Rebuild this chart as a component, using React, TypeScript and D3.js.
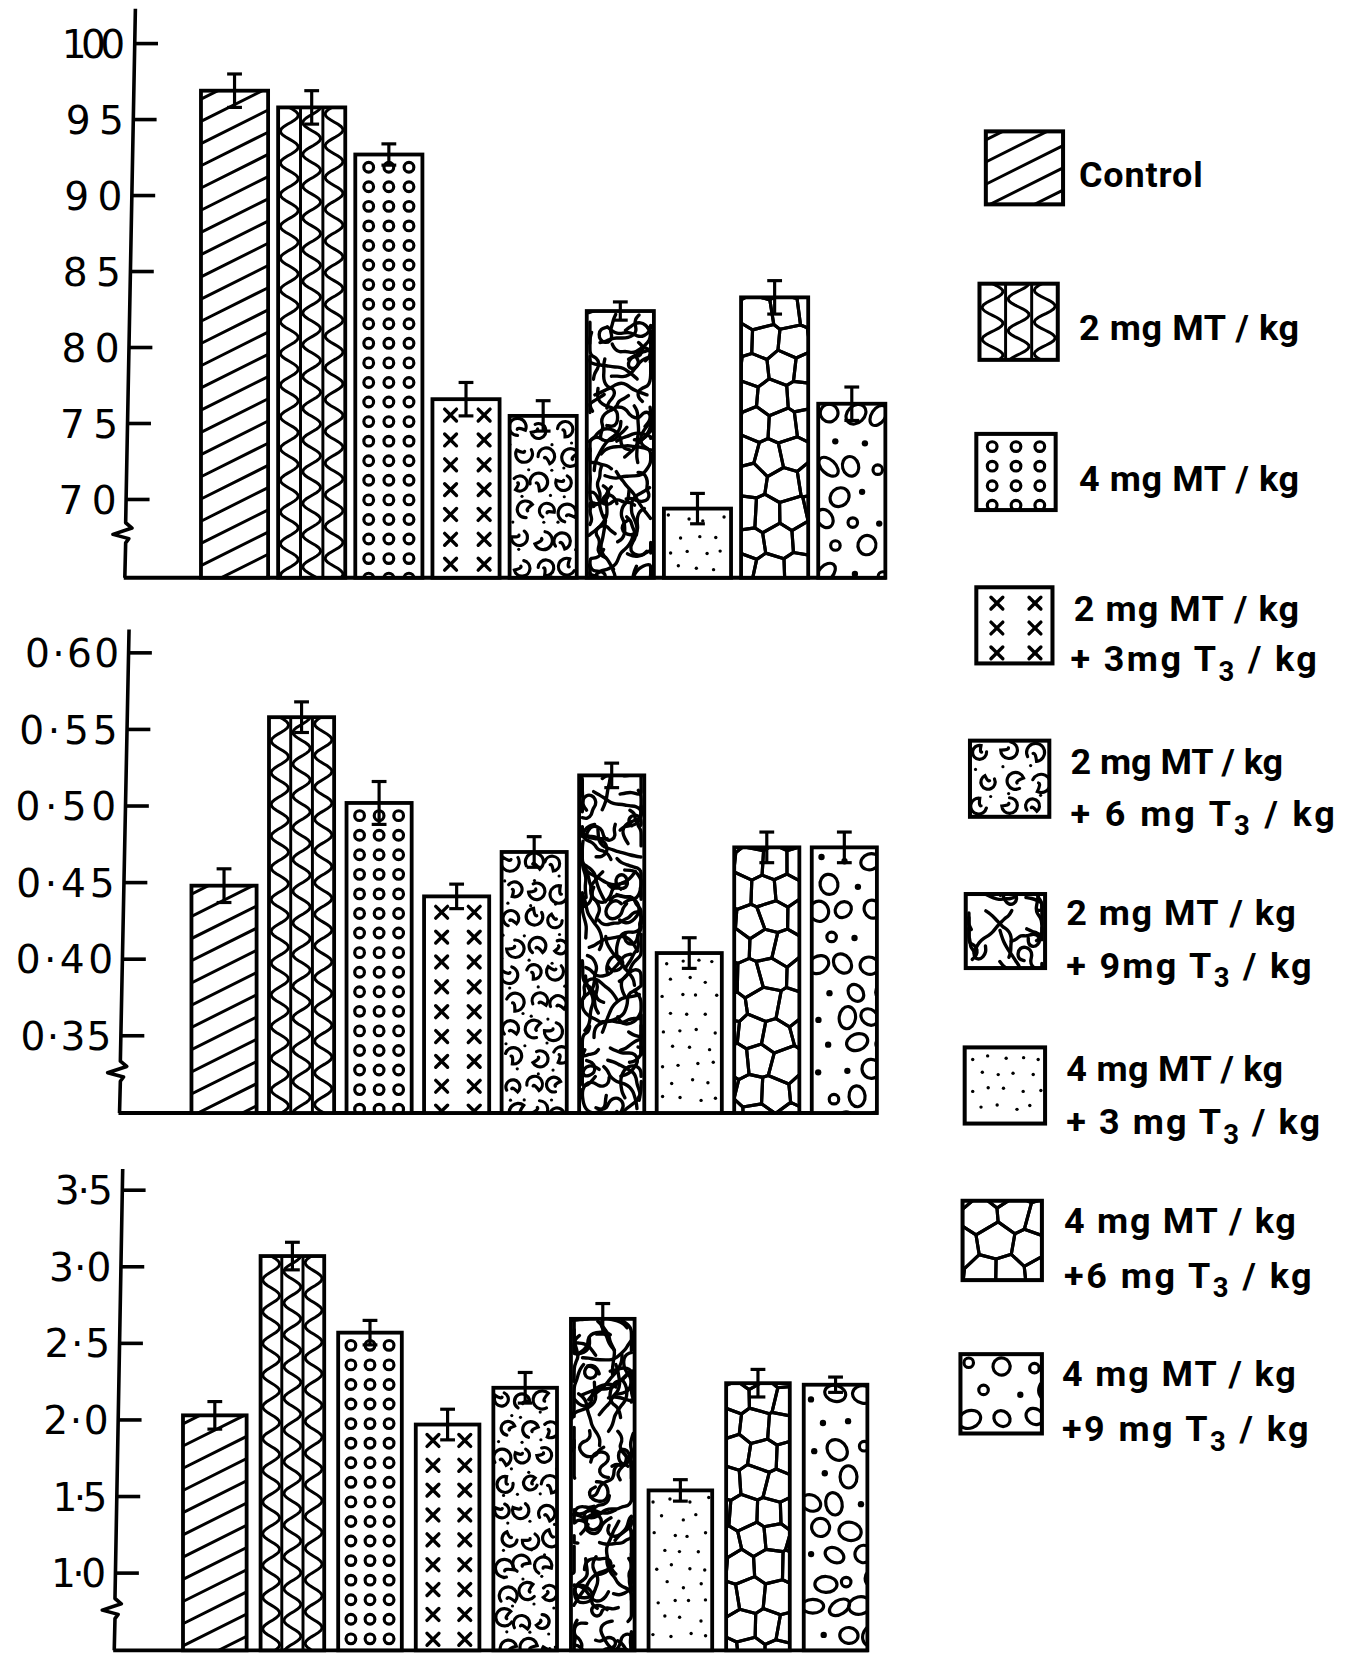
import { useMemo } from 'react';
import * as d3 from 'd3';

// ---- data ----
const GROUPS = ['Control', '2MT', '4MT', '2MT+3T3', '2MT+6T3', '2MT+9T3', '4MT+3T3', '4MT+6T3', '4MT+9T3'];
const TEXTURES = ['hatch', 'wave', 'rings', 'cross', 'beans', 'worms', 'stipple', 'stones', 'bubbles'];

const topValues = [96.9, 95.8, 92.7, 76.6, 75.5, 82.4, 69.4, 83.3, 76.3];
const topErrors = [1.1, 1.1, 0.7, 1.1, 1.0, 0.6, 1.0, 1.1, 1.1];
const topTicks = [70, 75, 80, 85, 90, 95, 100];
const topTickLabels = ['70', '75', '80', '85', '90', '95', '100'];

const midValues = [0.448, 0.558, 0.502, 0.441, 0.470, 0.520, 0.404, 0.473, 0.473];
const midErrors = [0.011, 0.010, 0.014, 0.008, 0.010, 0.008, 0.010, 0.010, 0.010];
const midTicks = [0.35, 0.40, 0.45, 0.50, 0.55, 0.60];
const midTickLabels = ['0·35', '0·40', '0·45', '0·50', '0·55', '0·60'];

const lowValues = [2.03, 3.07, 2.57, 1.97, 2.21, 2.66, 1.54, 2.24, 2.23];
const lowErrors = [0.09, 0.09, 0.08, 0.10, 0.10, 0.10, 0.07, 0.09, 0.05];
const lowTicks = [1.0, 1.5, 2.0, 2.5, 3.0, 3.5];
const lowTickLabels = ['1·0', '1·5', '2·0', '2·5', '3·0', '3·5'];

const legendLabels = [
  ['Control'],
  ['2 mg MT / kg'],
  ['4 mg MT / kg'],
  ['2 mg MT / kg', '+ 3mg T3 / kg'],
  ['2 mg MT / kg', '+ 6 mg T3 / kg'],
  ['2 mg MT / kg', '+ 9mg T3 / kg'],
  ['4 mg MT / kg', '+ 3 mg T3 / kg'],
  ['4 mg MT / kg', '+6 mg T3 / kg'],
  ['4 mg MT / kg', '+9 mg T3 / kg'],
];

// ---- layout (in the 1281x1568 drawing space) ----
const W = 1281;
const H = 1568;
const TICK_FONT = '"DejaVu Sans", Roboto, sans-serif';
const LEGEND_FONT = 'Roboto, "DejaVu Sans", sans-serif';

const panels = [
  {
    values: topValues, errors: topErrors, ticks: topTicks, labels: topTickLabels,
    tickRange: [472, 41], xRange: [190, 837], pad: 0.13,
    axisTop: [128, 8], axisBottom: [118, 546], breakY: 503,
    labelWidths: [55, 55, 55, 55, 55, 55, 60],
  },
  {
    values: midValues, errors: midErrors, ticks: midTicks, labels: midTickLabels,
    tickRange: [979, 617], xRange: [181, 829], pad: 0.16,
    axisTop: [122, 595], axisBottom: [113, 1052], breakY: 1012,
    labelWidths: [86, 92, 93, 95, 93, 89],
  },
  {
    values: lowValues, errors: lowErrors, ticks: lowTicks, labels: lowTickLabels,
    tickRange: [1487, 1125], xRange: [173, 820], pad: 0.18,
    axisTop: [116, 1105], axisBottom: [108, 1560], breakY: 1520,
    labelWidths: [52, 52, 62, 62, 59, 55],
  },
];

const legendLayout = [
  { box: [932, 124, 73, 69], lines: [[1020, 164, 117]] },
  { box: [926, 268, 74, 72], lines: [[1020, 309, 208]] },
  { box: [923, 410, 75, 72], lines: [[1020, 452, 208]] },
  { box: [923, 555, 72, 72], lines: [[1015, 575, 213], [1012, 622, 233]] },
  { box: [917, 700, 75, 72], lines: [[1012, 719, 201], [1012, 768, 250]] },
  { box: [913, 845, 75, 70], lines: [[1008, 862, 217], [1008, 912, 232]] },
  { box: [912, 990, 76, 72], lines: [[1008, 1010, 205], [1008, 1060, 240]] },
  { box: [910, 1135, 75, 75], lines: [[1006, 1153, 219], [1006, 1205, 234]] },
  { box: [908, 1280, 77, 75], lines: [[1004, 1298, 221], [1004, 1350, 233]] },
];

function makeRng(seed: number) {
  let a = seed >>> 0;
  return () => {
    a = (a + 0x6d2b79f5) | 0;
    let t = Math.imul(a ^ (a >>> 15), 1 | a);
    t = (t + Math.imul(t ^ (t >>> 7), 61 | t)) ^ t;
    return ((t ^ (t >>> 14)) >>> 0) / 4294967296;
  };
}

// hand-drawn style fills, built relative to the bar box
function texture(kind: string, x: number, y: number, w: number, h: number, seed: number) {
  const rnd = makeRng(seed * 7919 + 13);
  const out: any[] = [];
  const S = { stroke: '#000', strokeWidth: 2.8, fill: 'none', strokeLinecap: 'round' as const };
  const line = d3.line();
  const smooth = d3.line().curve(d3.curveBasis);
  let k = 0;

  if (kind === 'hatch') {
    const slope = 0.5, gap = 21;
    for (let c = y + 8; c < y + h + w * slope; c += gap)
      out.push(<line key={k++} x1={x} y1={c} x2={x + w} y2={c - w * slope} {...S} />);
  } else if (kind === 'wave') {
    const cw = w / 3;
    out.push(<line key={k++} x1={x + cw} y1={y} x2={x + cw} y2={y + h} {...S} />);
    out.push(<line key={k++} x1={x + 2 * cw} y1={y} x2={x + 2 * cw} y2={y + h} {...S} />);
    for (let i = 0; i < 3; i++) {
      const cx = x + (i + 0.5) * cw, amp = cw * 0.4, period = 30, ph = i * 1.7;
      const pts = d3.range(y - 2, y + h + 3, 2).map(v =>
        [cx + amp * Math.sin(((v - y) / period) * 2 * Math.PI + ph), v] as [number, number]);
      out.push(<path key={k++} d={line(pts) || ''} {...S} />);
    }
  } else if (kind === 'rings') {
    for (let v = y + 12; v < y + h + 4; v += 18.5)
      for (const f of [0.2, 0.5, 0.8])
        out.push(<circle key={k++} cx={x + f * w} cy={v} r={4.6} {...S} strokeWidth={3} fill="#fff" />);
  } else if (kind === 'cross') {
    for (let v = y + 15; v < y + h + 4; v += 23.5)
      for (const f of [0.27, 0.77]) {
        const cx = x + f * w, s = 5.6;
        out.push(<line key={k++} x1={cx - s} y1={v - s} x2={cx + s} y2={v + s} {...S} strokeWidth={3.2} />);
        out.push(<line key={k++} x1={cx - s} y1={v + s} x2={cx + s} y2={v - s} {...S} strokeWidth={3.2} />);
      }
  } else if (kind === 'beans') {
    const cw = w / 3, rh = 26;
    let row = 0;
    for (let v = y + 12; v < y + h + 12; v += rh, row++)
      for (let c = 0; c < 3; c++) {
        const cx = x + (c + 0.5 + (row % 2 ? 0.15 : -0.1)) * cw + (rnd() - 0.5) * 5, cy = v + (rnd() - 0.5) * 6;
        const R = 6.5 + rnd() * 2.2;
        const a0 = rnd() * Math.PI * 2, a1 = a0 + Math.PI * (1.3 + rnd() * 0.35);
        const p0 = [cx + R * Math.cos(a0), cy + R * Math.sin(a0)];
        const p1 = [cx + R * Math.cos(a1), cy + R * Math.sin(a1)];
        const pin = [cx + R * 0.3 * Math.cos(a1 + 1.3), cy + R * 0.3 * Math.sin(a1 + 1.3)];
        out.push(<path key={k++} d={`M${p0[0]},${p0[1]}A${R},${R} 0 1 1 ${p1[0]},${p1[1]}Q${cx},${cy} ${pin[0]},${pin[1]}`} {...S} strokeWidth={3} />);
        out.push(<circle key={k++} cx={x + (c + rnd()) * cw} cy={v + rh * 0.5 + (rnd() - 0.5) * 6} r={1.5} fill="#000" />);
      }
  } else if (kind === 'worms') {
    // meandering maze-like lines, smoothed
    const rh = 15;
    let row = 0;
    for (let v = y + 2; v < y + h + 10; v += rh, row++)
      for (let c = 0; c < 3; c++) {
        let px = x + ((c + 0.5) / 3) * w + (row % 2 ? 6 : -6) + (rnd() - 0.5) * 6;
        let py = v + (rnd() - 0.5) * 6;
        let ang = rnd() * Math.PI * 2;
        let bend = (rnd() - 0.5) * 1.6;
        const pts: [number, number][] = [[px, py]];
        for (let s = 0; s < 10; s++) {
          if (rnd() < 0.3) bend = -bend;
          ang += bend + (rnd() - 0.5) * 0.8;
          px += Math.cos(ang) * 5.5;
          py += Math.sin(ang) * 5.5;
          px = Math.max(x + 3, Math.min(x + w - 3, px));
          pts.push([px, py]);
        }
        out.push(<path key={k++} d={smooth(pts) || ''} {...S} strokeWidth={3.2} strokeLinejoin="round" />);
      }
  } else if (kind === 'stipple') {
    let row = 0;
    for (let v = y + 9; v < y + h; v += 16, row++)
      for (let u = x + 7 + (row % 2) * 8; u < x + w - 3; u += 16)
        out.push(<circle key={k++} cx={u + (rnd() - 0.5) * 6} cy={v + (rnd() - 0.5) * 6} r={1.6} fill="#000" />);
  } else if (kind === 'stones') {
    const cw = w / 2.4, rh = 27;
    const pts: [number, number][] = [];
    for (let j = -1; j * rh < h + rh; j++)
      for (let c = -1; c <= 3; c++)
        pts.push([
          x + (c + 0.5 + (j % 2 ? 0.5 : 0)) * cw + (rnd() - 0.5) * cw * 0.45,
          y + (j + 0.5) * rh + (rnd() - 0.5) * 9,
        ]);
    const vor = d3.Delaunay.from(pts).voronoi([x - 40, y - 40, x + w + 40, y + h + 40]);
    for (let i = 0; i < pts.length; i++)
      out.push(<path key={k++} d={vor.renderCell(i)} {...S} strokeWidth={3} strokeLinejoin="round" />);
  } else if (kind === 'bubbles') {
    const cw = w / 2.5, rh = 25;
    let row = 0;
    for (let v = y + 11; v < y + h + 12; v += rh, row++)
      for (let c = 0; c < 3; c++) {
        const cx = x + (c + 0.3 + (row % 2) * 0.45) * cw + (rnd() - 0.5) * 6, cy = v + (rnd() - 0.5) * 6;
        const p = rnd();
        if (p < 0.55) {
          const rx = 8 + rnd() * 3, ry = 6.5 + rnd() * 2.5, rot = rnd() * 180;
          out.push(<ellipse key={k++} cx={cx} cy={cy} rx={rx} ry={ry} transform={`rotate(${rot},${cx},${cy})`} {...S} strokeWidth={3} />);
        } else if (p < 0.8) {
          out.push(<circle key={k++} cx={cx} cy={cy} r={3} fill="#000" />);
        } else {
          out.push(<circle key={k++} cx={cx} cy={cy} r={4.5} {...S} strokeWidth={3} />);
        }
      }
  }
  return out;
}

function labelContent(s: string) {
  const parts = s.split('T3');
  if (parts.length === 1) return s;
  return [
    <tspan key="a">{parts[0]}T</tspan>,
    <tspan key="b" dy={9} fontSize={26}>3</tspan>,
    <tspan key="c" dy={-9}>{parts[1]}</tspan>,
  ];
}

function Panel({ p, pi }: { p: any; pi: number }) {
  const y = d3.scaleLinear().domain([p.ticks[0], p.ticks[p.ticks.length - 1]]).range(p.tickRange);
  const x = d3.scaleBand().domain(GROUPS).range(p.xRange).paddingInner(p.pad).paddingOuter(0);
  const base = p.axisBottom[1];
  const axisX = (yy: number) =>
    p.axisTop[0] + ((p.axisBottom[0] - p.axisTop[0]) * (yy - p.axisTop[1])) / (p.axisBottom[1] - p.axisTop[1]);
  const by = p.breakY;
  const bx = axisX(by);

  return (
    <g>
      {/* y axis with break */}
      <path
        d={`M${p.axisTop[0]},${p.axisTop[1]}L${bx},${by - 9}L${bx + 6},${by - 4}L${bx - 12},${by + 2}L${bx + 3},${by + 6}L${bx},${by + 10}L${p.axisBottom[0]},${base}`}
        fill="none" stroke="#000" strokeWidth={3.4} strokeLinejoin="round" />
      <line x1={p.axisBottom[0] - 1} y1={base} x2={p.xRange[1] + 1} y2={base} stroke="#000" strokeWidth={3.6} />
      {p.ticks.map((t: number, i: number) => {
        const ty = y(t);
        const ax = axisX(ty);
        return (
          <g key={i}>
            <line x1={ax} y1={ty} x2={ax + 22} y2={ty} stroke="#000" strokeWidth={3.4} />
            <text x={ax - 9} y={ty} dy="0.36em" textAnchor="end" fontFamily={TICK_FONT} fontSize={37}
              textLength={p.labelWidths[i]} lengthAdjust="spacing">{p.labels[i]}</text>
          </g>
        );
      })}
      {GROUPS.map((g, i) => {
        const bx0 = x(g)!;
        const bw = x.bandwidth();
        const top = y(p.values[i]);
        const id = `clip-${pi}-${i}`;
        const cx = bx0 + bw / 2;
        const e1 = y(p.values[i] + p.errors[i]);
        const e0 = y(p.values[i] - p.errors[i]);
        return (
          <g key={g}>
            <clipPath id={id}><rect x={bx0} y={top} width={bw} height={base - top} /></clipPath>
            <rect x={bx0} y={top} width={bw} height={base - top} fill="#fff" />
            <g clipPath={`url(#${id})`}>{texture(TEXTURES[i], bx0, top, bw, base - top, pi * 20 + i + 1)}</g>
            <rect x={bx0} y={top} width={bw} height={base - top} fill="none" stroke="#000" strokeWidth={3.6} />
            <g stroke="#000" strokeWidth={3}>
              <line x1={cx} y1={e1} x2={cx} y2={e0} />
              <line x1={cx - 7} y1={e1} x2={cx + 7} y2={e1} />
              <line x1={cx - 7} y1={e0} x2={cx + 7} y2={e0} />
            </g>
          </g>
        );
      })}
    </g>
  );
}

function Legend() {
  return (
    <g>
      {legendLayout.map((item, i) => {
        const [bx, by, bw, bh] = item.box;
        const id = `clip-leg-${i}`;
        return (
          <g key={i}>
            <clipPath id={id}><rect x={bx} y={by} width={bw} height={bh} /></clipPath>
            <rect x={bx} y={by} width={bw} height={bh} fill="#fff" />
            <g clipPath={`url(#${id})`}>{texture(TEXTURES[i], bx, by, bw, bh, 100 + i)}</g>
            <rect x={bx} y={by} width={bw} height={bh} fill="none" stroke="#000" strokeWidth={3.8} />
            {legendLabels[i].map((s, j) => {
              const [tx, ty, tw] = item.lines[j];
              return (
                <text key={j} x={tx} y={ty} dy="0.36em" fontFamily={LEGEND_FONT} fontSize={34} fontWeight={700}
                  textLength={tw} lengthAdjust="spacing">{labelContent(s)}</text>
              );
            })}
          </g>
        );
      })}
    </g>
  );
}

export default function App() {
  const content = useMemo(() => panels.map((p, pi) => <Panel key={pi} p={p} pi={pi} />), []);
  return (
    <svg width={1355} height={1659} viewBox={`0 0 ${W} ${H}`}
      style={{ position: 'absolute', left: 0, top: 0, display: 'block', background: '#fff' }}>
      <rect width={W} height={H} fill="#fff" />
      {content}
      <Legend />
    </svg>
  );
}
